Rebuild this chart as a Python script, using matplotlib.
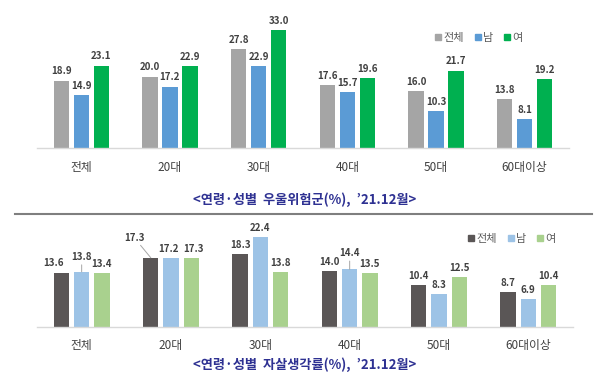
import matplotlib
matplotlib.use("Agg")
import matplotlib.pyplot as plt
from matplotlib.lines import Line2D
import numpy as np

plt.rcParams['font.family'] = ['Noto Sans CJK KR', 'DejaVu Sans']

categories = ['전체', '20대', '30대', '40대', '50대', '60대이상']
series_names = ['전체', '남', '여']

dep_total = [18.9, 20.0, 27.8, 17.6, 16.0, 13.8]
dep_male = [14.9, 17.2, 22.9, 15.7, 10.3, 8.1]
dep_female = [23.1, 22.9, 33.0, 19.6, 21.7, 19.2]

sui_total = [13.6, 17.3, 18.3, 14.0, 10.4, 8.7]
sui_male = [13.8, 17.2, 22.4, 14.4, 8.3, 6.9]
sui_female = [13.4, 17.3, 13.8, 13.5, 12.5, 10.4]

title_top = "<연령·성별  우울위험군(%),  ’21.12월>"
title_bottom = "<연령·성별  자살생각률(%),  ’21.12월>"

W, H = 600, 378
fig = plt.figure(figsize=(W / 100, H / 100), dpi=100)
fig.patch.set_facecolor('white')


def px_axes(x0, y_base, x1, y_top):
    return fig.add_axes([x0 / W, 1 - y_base / H, (x1 - x0) / W, (y_base - y_top) / H])


def draw(ax, data, colors, ymax, offsets):
    x = np.arange(len(categories))
    step = 0.226
    width = 0.172
    for i, (vals, col) in enumerate(zip(data, colors)):
        ax.bar(x + (i - 1) * step, vals, width, color=col, zorder=2)
        for j, v in enumerate(vals):
            dx, dy, leader = offsets.get((i, j), (0, 3, False))
            xb = x[j] + (i - 1) * step
            kw = dict(textcoords='offset points', ha='center', va='bottom',
                      fontsize=7, fontweight='bold', color='#404040')
            if leader:
                kw['arrowprops'] = dict(arrowstyle='-', color='#A6A6A6', lw=0.7,
                                        shrinkA=0, shrinkB=0)
            ax.annotate(f"{v:.1f}", xy=(xb, v), xytext=(dx, dy), **kw)
    ax.set_xlim(-0.5, 5.5)
    ax.set_ylim(0, ymax)
    for s in ['top', 'right', 'left']:
        ax.spines[s].set_visible(False)
    ax.spines['bottom'].set_color('#D9D9D9')
    ax.spines['bottom'].set_linewidth(1.0)
    ax.set_yticks([])
    ax.set_xticks(x)
    ax.set_xticklabels(categories, fontsize=8.5, color='#404040')
    ax.tick_params(axis='x', length=0, pad=9)
    ax.set_facecolor('none')


top_colors = ['#A5A5A5', '#5B9BD5', '#00B050']
bot_colors = ['#5A5656', '#9DC3E6', '#A9D18E']

ax1 = px_axes(37, 148, 569, 19.5)
draw(ax1, [dep_total, dep_male, dep_female], top_colors, 36, {})

ax2 = px_axes(37, 327, 573, 227)
# key: (series index, category index) -> (dx pt, dy pt, leader line)
sui_offsets = {
    (0, 0): (-6, 3, False),
    (1, 0): (0, 7, True),
    (0, 1): (-12, 11, True),
    (1, 1): (-1.5, 3, False),
    (2, 1): (1.5, 3, False),
    (1, 3): (0, 8, True),
}
draw(ax2, [sui_total, sui_male, sui_female], bot_colors, 25, sui_offsets)

for cols, loc in [(top_colors, (435, 38)), (bot_colors, (468, 239))]:
    handles = [Line2D([0], [0], marker='s', linestyle='none', markersize=4.5,
                      markerfacecolor=c, markeredgecolor=c) for c in cols]
    fig.legend(handles, series_names, loc='center left',
               bbox_to_anchor=(loc[0] / W, 1 - loc[1] / H), ncol=3, frameon=False,
               fontsize=8, labelcolor='#595959', handlelength=0.6,
               handletextpad=0.2, columnspacing=0.9, borderpad=0, borderaxespad=0)

fig.text(305 / W, 1 - 200 / H, title_top, ha='center', va='center',
         fontsize=9.5, fontweight='bold', color='#2E3192')
fig.text(305 / W, 1 - 365 / H, title_bottom, ha='center', va='center',
         fontsize=9.5, fontweight='bold', color='#2E3192')

fig.add_artist(Line2D([15 / W, 592 / W], [1 - 214 / H, 1 - 214 / H],
                      color='#7F7F7F', lw=1.5))

fig.savefig('out.png', dpi=100, facecolor='white')
